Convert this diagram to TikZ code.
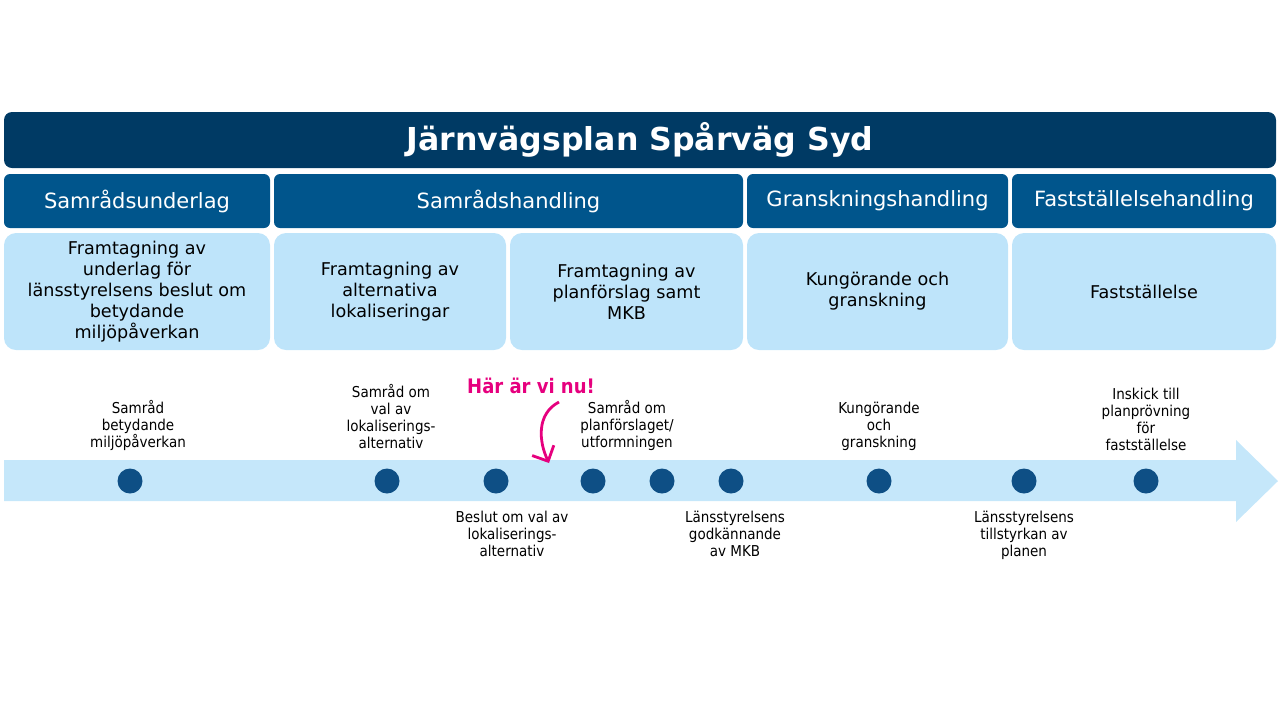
\documentclass[tikz,border=0pt]{standalone}
\usepackage{fontspec}
\setmainfont{DejaVu Sans}
\newfontfamily\condfont{DejaVu Sans Condensed}
\usetikzlibrary{positioning,arrows.meta}
\definecolor{navy}{RGB}{0,58,100}
\definecolor{headblue}{RGB}{0,85,140}
\definecolor{paleblue}{RGB}{190,228,250}
\definecolor{arrowblue}{RGB}{197,231,250}
\definecolor{dotblue}{RGB}{14,79,133}
\definecolor{pink}{RGB}{230,0,126}
\tikzset{
  titlebar/.style={fill=navy, rounded corners=4pt, text=white, font=\bfseries\fontsize{15.8}{18}\selectfont},
  headbox/.style={fill=headblue, rounded corners=3pt, text=white, font=\fontsize{10.5}{13}\selectfont},
  stagebox/.style={fill=paleblue, rounded corners=6pt, align=center, font=\fontsize{8.8}{10.5}\selectfont},
  milestone/.style={circle, fill=dotblue, minimum size=12.5pt, inner sep=0pt},
  event/.style={align=center, font=\condfont\fontsize{7.5}{8.6}\selectfont},
}
\begin{document}
\begin{tikzpicture}[x=0.5pt, y=-0.5pt]
\useasboundingbox (0,0) rectangle (1280,720);
% title and phases
\node[titlebar, minimum width=636pt, minimum height=28pt] (title) at (640,140) {Järnvägsplan Spårväg Syd};
\node[headbox, minimum width=133pt, minimum height=27pt] (underlag) at (137,201) {Samrådsunderlag};
\node[headbox, minimum width=234.5pt, minimum height=27pt] (handling) at (508.5,201) {Samrådshandling};
\node[headbox, minimum width=130.5pt, minimum height=27pt] (gransk) at (877.5,201) {Granskningshandling};
\node[headbox, minimum width=132pt, minimum height=27pt] (faststall) at (1144,201) {Fastställelsehandling};
% stage boxes
\node[stagebox, minimum width=133pt, minimum height=58.5pt] (s1) at (137,291.5) {Framtagning av\\underlag för\\länsstyrelsens beslut om\\betydande\\miljöpåverkan};
\node[stagebox, minimum width=116pt, minimum height=58.5pt] (s2) at (390,291.5) {Framtagning av\\alternativa\\lokaliseringar};
\node[stagebox, minimum width=116.5pt, minimum height=58.5pt] (s3) at (626.5,291.5) {Framtagning av\\planförslag samt\\MKB};
\node[stagebox, minimum width=130.5pt, minimum height=58.5pt] (s4) at (877.5,291.5) {Kungörande och\\granskning};
\node[stagebox, minimum width=132pt, minimum height=58.5pt] (s5) at (1144,291.5) {Fastställelse};
% timeline arrow
\fill[arrowblue] (4,460) -- (1236,460) -- (1236,440) -- (1278,481) -- (1236,522) -- (1236,501) -- (4,501) -- cycle;
\foreach \name/\xx in {m1/130, m2/387, m3/496, m4/593, m5/662, m6/731, m7/879, m8/1024, m9/1146}
  \node[milestone] (\name) at (\xx,481) {};
% events above
\node[event, above=5pt of m1, xshift=4pt] (e1) {Samråd\\betydande\\miljöpåverkan};
\node[event, above=6pt of m2, xshift=2pt] (e2) {Samråd om\\val av\\lokaliserings-\\alternativ};
\node[event, above=5pt of m4, xshift=17pt] (e4) {Samråd om\\planförslaget/\\utformningen};
\node[event, above=5pt of m7] (e7) {Kungörande\\och\\granskning};
\node[event, above=5pt of m9] (e9) {Inskick till\\planprövning\\för\\fastställelse};
% events below
\node[event, below=5pt of m3, xshift=8pt] (e3) {Beslut om val av\\lokaliserings-\\alternativ};
\node[event, below=5pt of m6, xshift=2pt] (e6) {Länsstyrelsens\\godkännande\\av MKB};
\node[event, below=5pt of m8] (e8) {Länsstyrelsens\\tillstyrkan av\\planen};
% current position
\node[text=pink, font=\bfseries\condfont\fontsize{10}{12}\selectfont] (nu) at (531,386) {Här är vi nu!};
\coordinate (here) at (549,463);
\draw[pink, line width=1.4pt, -{Straight Barb[length=6pt]}] (559,402) .. controls (536,414) and (539,442) .. (here);
\end{tikzpicture}
\end{document}
